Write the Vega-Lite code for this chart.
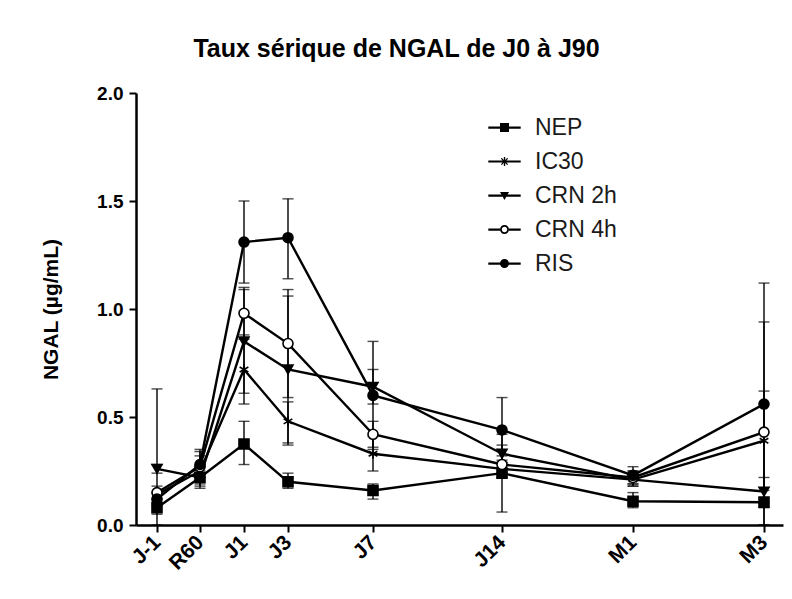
{
  "$schema": "https://vega.github.io/schema/vega-lite/v6.json",
  "width": 647,
  "height": 432,
  "autosize": {"type": "none"},
  "padding": {"left": 136, "top": 93, "right": 9, "bottom": 74},
  "background": "white",
  "title": {"text": "Taux sérique de NGAL de J0 à J90", "fontSize": 25, "fontWeight": "bold", "font": "Liberation Sans", "color": "black", "anchor": "middle", "dx": -63, "offset": 22},
  "config": {"view": {"stroke": null}, "font": "Liberation Sans"},
  "data": {"values": [
    {"series": "NEP", "tp": "J-1", "day": -1, "y": 0.08, "lo": 0.05, "hi": 0.11},
    {"series": "NEP", "tp": "R60", "day": 0, "y": 0.22, "lo": 0.18, "hi": 0.27},
    {"series": "NEP", "tp": "J1", "day": 1, "y": 0.375, "lo": 0.28, "hi": 0.48},
    {"series": "NEP", "tp": "J3", "day": 3, "y": 0.20, "lo": 0.17, "hi": 0.24},
    {"series": "NEP", "tp": "J7", "day": 7, "y": 0.16, "lo": 0.12, "hi": 0.19},
    {"series": "NEP", "tp": "J14", "day": 14, "y": 0.24, "lo": 0.06, "hi": 0.42},
    {"series": "NEP", "tp": "M1", "day": 30, "y": 0.11, "lo": 0.08, "hi": 0.15},
    {"series": "NEP", "tp": "M3", "day": 90, "y": 0.105, "lo": 0.08, "hi": 0.13},
    {"series": "IC30", "tp": "J-1", "day": -1, "y": 0.14, "lo": 0.0, "hi": 0.63},
    {"series": "IC30", "tp": "R60", "day": 0, "y": 0.25, "lo": 0.17, "hi": 0.35},
    {"series": "IC30", "tp": "J1", "day": 1, "y": 0.72, "lo": 0.56, "hi": 0.88},
    {"series": "IC30", "tp": "J3", "day": 3, "y": 0.48, "lo": 0.37, "hi": 0.57},
    {"series": "IC30", "tp": "J7", "day": 7, "y": 0.33, "lo": 0.25, "hi": 0.41},
    {"series": "IC30", "tp": "J14", "day": 14, "y": 0.26, "lo": 0.22, "hi": 0.30},
    {"series": "IC30", "tp": "M1", "day": 30, "y": 0.21, "lo": 0.18, "hi": 0.24},
    {"series": "IC30", "tp": "M3", "day": 90, "y": 0.39, "lo": 0.16, "hi": 0.62},
    {"series": "CRN 2h", "tp": "J-1", "day": -1, "y": 0.26, "lo": 0.24, "hi": 0.28},
    {"series": "CRN 2h", "tp": "R60", "day": 0, "y": 0.22, "lo": 0.19, "hi": 0.25},
    {"series": "CRN 2h", "tp": "J1", "day": 1, "y": 0.85, "lo": 0.61, "hi": 1.09},
    {"series": "CRN 2h", "tp": "J3", "day": 3, "y": 0.72, "lo": 0.38, "hi": 1.06},
    {"series": "CRN 2h", "tp": "J7", "day": 7, "y": 0.64, "lo": 0.56, "hi": 0.72},
    {"series": "CRN 2h", "tp": "J14", "day": 14, "y": 0.33, "lo": 0.29, "hi": 0.37},
    {"series": "CRN 2h", "tp": "M1", "day": 30, "y": 0.21, "lo": 0.18, "hi": 0.25},
    {"series": "CRN 2h", "tp": "M3", "day": 90, "y": 0.155, "lo": 0.10, "hi": 0.22},
    {"series": "CRN 4h", "tp": "J-1", "day": -1, "y": 0.15, "lo": 0.12, "hi": 0.18},
    {"series": "CRN 4h", "tp": "R60", "day": 0, "y": 0.27, "lo": 0.22, "hi": 0.32},
    {"series": "CRN 4h", "tp": "J1", "day": 1, "y": 0.98, "lo": 0.86, "hi": 1.10},
    {"series": "CRN 4h", "tp": "J3", "day": 3, "y": 0.84, "lo": 0.59, "hi": 1.09},
    {"series": "CRN 4h", "tp": "J7", "day": 7, "y": 0.42, "lo": 0.36, "hi": 0.48},
    {"series": "CRN 4h", "tp": "J14", "day": 14, "y": 0.28, "lo": 0.24, "hi": 0.32},
    {"series": "CRN 4h", "tp": "M1", "day": 30, "y": 0.22, "lo": 0.19, "hi": 0.25},
    {"series": "CRN 4h", "tp": "M3", "day": 90, "y": 0.43, "lo": 0.0, "hi": 0.94},
    {"series": "RIS", "tp": "J-1", "day": -1, "y": 0.12, "lo": 0.09, "hi": 0.15},
    {"series": "RIS", "tp": "R60", "day": 0, "y": 0.28, "lo": 0.22, "hi": 0.34},
    {"series": "RIS", "tp": "J1", "day": 1, "y": 1.31, "lo": 1.12, "hi": 1.50},
    {"series": "RIS", "tp": "J3", "day": 3, "y": 1.33, "lo": 1.14, "hi": 1.51},
    {"series": "RIS", "tp": "J7", "day": 7, "y": 0.60, "lo": 0.35, "hi": 0.85},
    {"series": "RIS", "tp": "J14", "day": 14, "y": 0.44, "lo": 0.29, "hi": 0.59},
    {"series": "RIS", "tp": "M1", "day": 30, "y": 0.23, "lo": 0.19, "hi": 0.27},
    {"series": "RIS", "tp": "M3", "day": 90, "y": 0.56, "lo": 0.0, "hi": 1.12}
  ]},
  "encoding": {
    "x": {
      "field": "day", "type": "quantitative",
      "scale": {"domain": [-1.49, -1, 0, 1, 3, 7, 14, 30, 90, 91.4], "range": [0, 21, 64, 108, 152, 237, 366, 497, 628, 647], "nice": false, "zero": false},
      "axis": {
        "values": [-1, 0, 1, 3, 7, 14, 30, 90],
        "labelExpr": "datum.value == -1 ? 'J-1' : datum.value == 0 ? 'R60' : datum.value == 1 ? 'J1' : datum.value == 3 ? 'J3' : datum.value == 7 ? 'J7' : datum.value == 14 ? 'J14' : datum.value == 30 ? 'M1' : 'M3'",
        "labelAngle": -45, "labelAlign": "right", "labelBaseline": "middle",
        "labelFontSize": 21, "labelFontWeight": "bold", "labelColor": "black", "labelPadding": 7,
        "tickSize": 7, "tickWidth": 2, "tickColor": "black",
        "domainColor": "black", "domainWidth": 2.5, "grid": false, "labelFlush": false, "labelOverlap": false
      },
      "title": null
    },
    "y": {
      "field": "y", "type": "quantitative",
      "scale": {"domain": [0, 2], "nice": false},
      "axis": {
        "values": [0, 0.5, 1, 1.5, 2], "format": ".1f",
        "labelFontSize": 19, "labelFontWeight": "bold", "labelColor": "black", "labelPadding": 6,
        "tickSize": 7, "tickWidth": 2, "tickColor": "black",
        "domainColor": "black", "domainWidth": 2.5, "grid": false,
        "titleFontSize": 21, "titleFontWeight": "bold", "titleColor": "black", "titlePadding": 35
      },
      "title": "NGAL (µg/mL)"
    }
  },
  "layer": [
    {
      "mark": {"type": "errorbar", "ticks": {"size": 11, "thickness": 1.4, "color": "black"}, "rule": {"strokeWidth": 1.4, "color": "black"}},
      "encoding": {
        "y": {"field": "lo", "type": "quantitative", "title": "NGAL (µg/mL)"},
        "y2": {"field": "hi"}
      }
    },
    {
      "mark": {"type": "line", "color": "black", "strokeWidth": 2.4},
      "encoding": {"detail": {"field": "series"}}
    },
    {
      "mark": {"type": "point", "stroke": "black", "strokeWidth": 1.6, "size": 100, "opacity": 1},
      "encoding": {
        "shape": {"field": "series", "type": "nominal", "scale": {"domain": ["NEP", "IC30", "CRN 2h", "CRN 4h", "RIS"], "range": ["square", "M0,-1L0,1M-0.87,-0.5L0.87,0.5M-0.87,0.5L0.87,-0.5", "triangle-down", "circle", "circle"]}, "legend": null},
        "fill": {"field": "series", "type": "nominal", "scale": {"domain": ["NEP", "IC30", "CRN 2h", "CRN 4h", "RIS"], "range": ["black", "black", "black", "white", "black"]}, "legend": null}
      }
    },
    {
      "transform": [{"filter": "datum.y > 100"}],
      "mark": {"type": "point", "filled": true, "color": "black", "size": 81},
      "encoding": {
        "shape": {
          "field": "series", "type": "nominal",
          "scale": {"domain": ["NEP", "IC30", "CRN 2h", "CRN 4h", "RIS"], "range": [
            "M-3.6,-0.25L3.6,-0.25L3.6,0.25L-3.6,0.25ZM-1,-1L1,-1L1,1L-1,1Z",
            "M-3.6,-0.2L3.6,-0.2L3.6,0.2L-3.6,0.2ZM-0.15,-1L0.15,-1L0.15,1L-0.15,1ZM-0.6,-0.8L0.8,0.6L0.6,0.8L-0.8,-0.6ZM-0.8,0.6L0.6,-0.8L0.8,-0.6L-0.6,0.8Z",
            "M-3.6,-0.25L3.6,-0.25L3.6,0.25L-3.6,0.25ZM-1,-0.8L1,-0.8L0,1Z",
            "M-3.6,-0.25L-1,-0.25L-1,0.25L-3.6,0.25ZM1,-0.25L3.6,-0.25L3.6,0.25L1,0.25ZM-1,0A1,1 0 1,1 1,0A1,1 0 1,1 -1,0ZM-0.6,0A0.6,0.6 0 1,0 0.6,0A0.6,0.6 0 1,0 -0.6,0Z",
            "M-3.6,-0.25L3.6,-0.25L3.6,0.25L-3.6,0.25ZM-1,0A1,1 0 1,1 1,0A1,1 0 1,1 -1,0Z"
          ]},
          "legend": {
            "orient": "none", "legendX": 357, "legendY": 23, "title": null,
            "symbolSize": 81, "symbolOpacity": 1, "symbolFillColor": "black",
            "labelFontSize": 23, "labelFont": "Liberation Sans", "labelColor": "#1a1a1a", "labelOffset": 19, "rowPadding": 10
          }
        }
      }
    }
  ],
  "resolve": {"scale": {"shape": "independent"}}
}
